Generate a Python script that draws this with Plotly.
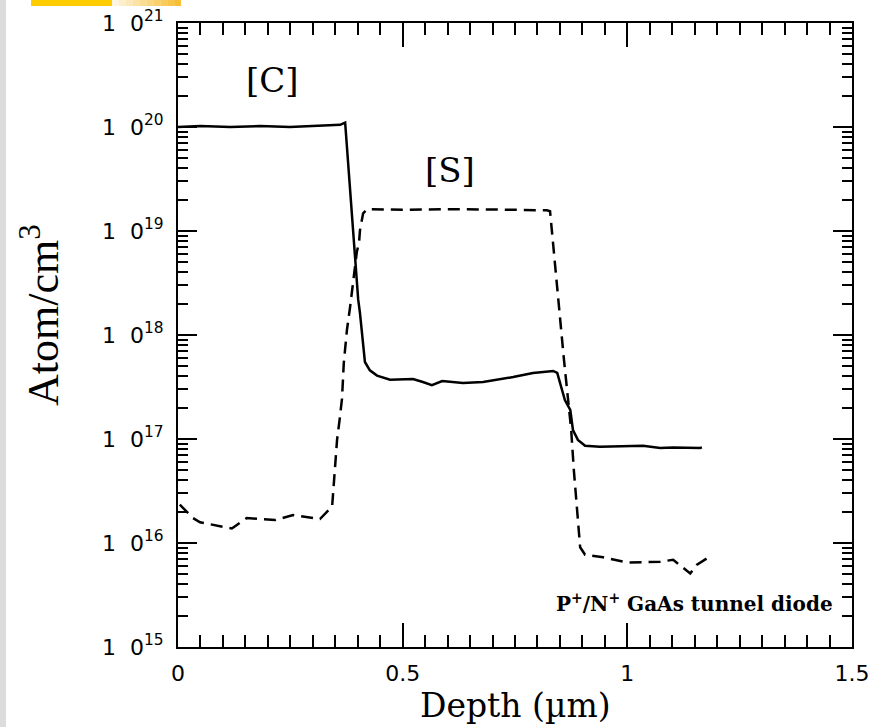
import plotly.graph_objects as go

# ---- data ----
c_depth = [0.0, 0.049, 0.116, 0.183, 0.249, 0.316, 0.361, 0.372, 0.381, 0.387, 0.394,
           0.401, 0.405, 0.416, 0.427, 0.443, 0.472, 0.523, 0.545, 0.565, 0.588, 0.634,
           0.679, 0.746, 0.790, 0.835, 0.844, 0.861, 0.873, 0.879, 0.890, 0.906, 0.939,
           1.035, 1.073, 1.102, 1.162, 1.166]
c_conc = [1.0e20, 1.02e20, 1.0e20, 1.02e20, 1.0e20, 1.02e20, 1.05e20, 1.10e20, 3.1e19, 1.41e19, 5.6e18,
          2.2e18, 1.62e18, 5.5e17, 4.57e17, 4.07e17, 3.72e17, 3.78e17, 3.53e17, 3.30e17, 3.61e17, 3.45e17,
          3.53e17, 3.94e17, 4.32e17, 4.51e17, 4.32e17, 2.37e17, 1.90e17, 1.22e17, 9.8e16, 8.6e16, 8.4e16,
          8.6e16, 8.2e16, 8.3e16, 8.2e16, 8.3e16]

s_depth = [0.004, 0.033, 0.049, 0.120, 0.153, 0.216, 0.256, 0.316, 0.343, 0.349, 0.354,
           0.360, 0.365, 0.369, 0.376, 0.383, 0.389, 0.394, 0.398, 0.403, 0.405, 0.412,
           0.421, 0.5, 0.6, 0.7, 0.821, 0.828, 0.835, 0.844, 0.850, 0.859, 0.866,
           0.875, 0.881, 0.888, 0.895, 0.906, 0.946, 0.999, 1.044, 1.073, 1.102,
           1.140, 1.155, 1.177]
s_conc = [2.34e16, 1.74e16, 1.58e16, 1.38e16, 1.74e16, 1.66e16, 1.86e16, 1.70e16, 2.24e16, 5.0e16, 9.8e16,
          1.58e17, 2.45e17, 5.4e17, 1.12e18, 1.86e18, 3.16e18, 4.27e18, 6.3e18, 7.8e18, 1.02e19, 1.48e19,
          1.62e19, 1.60e19, 1.62e19, 1.61e19, 1.58e19, 1.55e19, 7.1e18, 2.7e18, 1.38e18, 5.75e17, 2.95e17,
          1.23e17, 5.0e16, 2.09e16, 9.1e15, 7.7e15, 7.3e15, 6.5e15, 6.6e15, 6.6e15, 6.9e15,
          5.1e15, 6.2e15, 7.1e15]

y_tick_vals = [1e15, 1e16, 1e17, 1e18, 1e19, 1e20, 1e21]
y_tick_text = ["1 \u00a00<sup>15</sup>", "1 \u00a00<sup>16</sup>", "1 \u00a00<sup>17</sup>",
               "1 \u00a00<sup>18</sup>", "1 \u00a00<sup>19</sup>", "1 \u00a00<sup>20</sup>",
               "1 \u00a00<sup>21</sup>"]
x_tick_vals = [0, 0.5, 1, 1.5]
x_tick_text = ["0", "0.5", "1", "1.5"]

y_minor = [float(k) * 10.0 ** e for e in range(15, 21) for k in range(2, 10)]
x_minor = [round(i * 0.05, 3) for i in range(0, 31)]

fig = go.Figure()
fig.add_trace(go.Scatter(x=c_depth, y=c_conc, mode="lines",
                         line=dict(color="black", width=2.5), showlegend=False))
fig.add_trace(go.Scatter(x=s_depth, y=s_conc, mode="lines",
                         line=dict(color="black", width=2.5, dash="12px,7px"), showlegend=False))

L, R, T, B = 178, 30, 23, 80
W, H = 882, 727
PW, PH = W - L - R, H - T - B

def px(x):
    return (x - L) / PW

def py(y):
    return (H - B - y) / PH

axis_font = dict(family="DejaVu Sans, Liberation Sans, sans-serif", size=22, color="black")

fig.update_layout(
    width=W, height=H,
    margin=dict(l=L, r=R, t=T, b=B, autoexpand=False),
    paper_bgcolor="white", plot_bgcolor="white",
    xaxis=dict(range=[0, 1.5], tickmode="array", tickvals=x_tick_vals, ticktext=x_tick_text,
               ticks="inside", ticklen=24, tickwidth=1.5, tickcolor="black",
               showline=True, linecolor="black", linewidth=2, mirror="ticks",
               showgrid=False, zeroline=False, tickfont=axis_font, ticklabelstandoff=6,
               minor=dict(tickmode="array", tickvals=x_minor, ticks="inside", ticklen=12,
                          tickwidth=1.5, tickcolor="black", showgrid=False)),
    yaxis=dict(type="log", range=[15, 21], tickmode="array", tickvals=y_tick_vals, ticktext=y_tick_text,
               ticks="inside", ticklen=19, tickwidth=1.5, tickcolor="black",
               showline=True, linecolor="black", linewidth=2, mirror="ticks",
               showgrid=False, zeroline=False, tickfont=axis_font, ticklabelstandoff=8,
               minor=dict(tickmode="array", tickvals=y_minor, ticks="inside", ticklen=10,
                          tickwidth=1.5, tickcolor="black", showgrid=False)),
)

serif = "DejaVu Serif, Century Schoolbook, serif"
fig.add_annotation(x=0.211, y=20.45, xref="x", yref="y", text="[C]", showarrow=False,
                   xanchor="center", yanchor="middle",
                   font=dict(family=serif, size=34, color="black"))
fig.add_annotation(x=0.605, y=19.59, xref="x", yref="y", text="[S]", showarrow=False,
                   xanchor="center", yanchor="middle",
                   font=dict(family=serif, size=34, color="black"))
fig.add_annotation(x=1.462, y=15.42, xref="x", yref="y", xanchor="right", yanchor="middle",
                   text="<b>P<sup>+</sup>/N<sup>+</sup> GaAs tunnel diode</b>", showarrow=False,
                   font=dict(family=serif, size=20, color="black"))
fig.add_annotation(x=px(515), y=py(705), xref="paper", yref="paper", text="Depth (µm)",
                   xanchor="center", yanchor="middle",
                   showarrow=False, font=dict(family=serif, size=33, color="black"))
fig.add_annotation(x=px(40), y=py(315), xref="paper", yref="paper", text="Atom/cm<sup>3</sup>",
                   xanchor="center", yanchor="middle",
                   textangle=-90, showarrow=False,
                   font=dict(family="Liberation Serif, Times New Roman, serif", size=44, color="black"))

# decorative scan artefacts: grey strip on the left, yellow tab at the top
shapes = [dict(type="rect", xref="paper", yref="paper", x0=px(0), x1=px(6), y0=py(H), y1=py(0),
               fillcolor="#dcdcdc", line=dict(width=0), layer="below"),
          dict(type="rect", xref="paper", yref="paper", x0=px(31), x1=px(112), y0=py(6), y1=py(0),
               fillcolor="#FFCC00", line=dict(width=0), layer="below")]
n = 10
for i in range(n):
    a = (i + 0.5) / n
    shapes.append(dict(type="rect", xref="paper", yref="paper",
                       x0=px(112 + i * 69 / n), x1=px(112 + (i + 1) * 69 / n), y0=py(6), y1=py(0),
                       fillcolor="#F5B820", opacity=0.1 + 0.85 * a, line=dict(width=0), layer="below"))
fig.update_layout(shapes=shapes)

fig.write_html("out.html", config={"displayModeBar": False},
               post_script="document.body.style.margin='0';document.body.style.padding='0';")
